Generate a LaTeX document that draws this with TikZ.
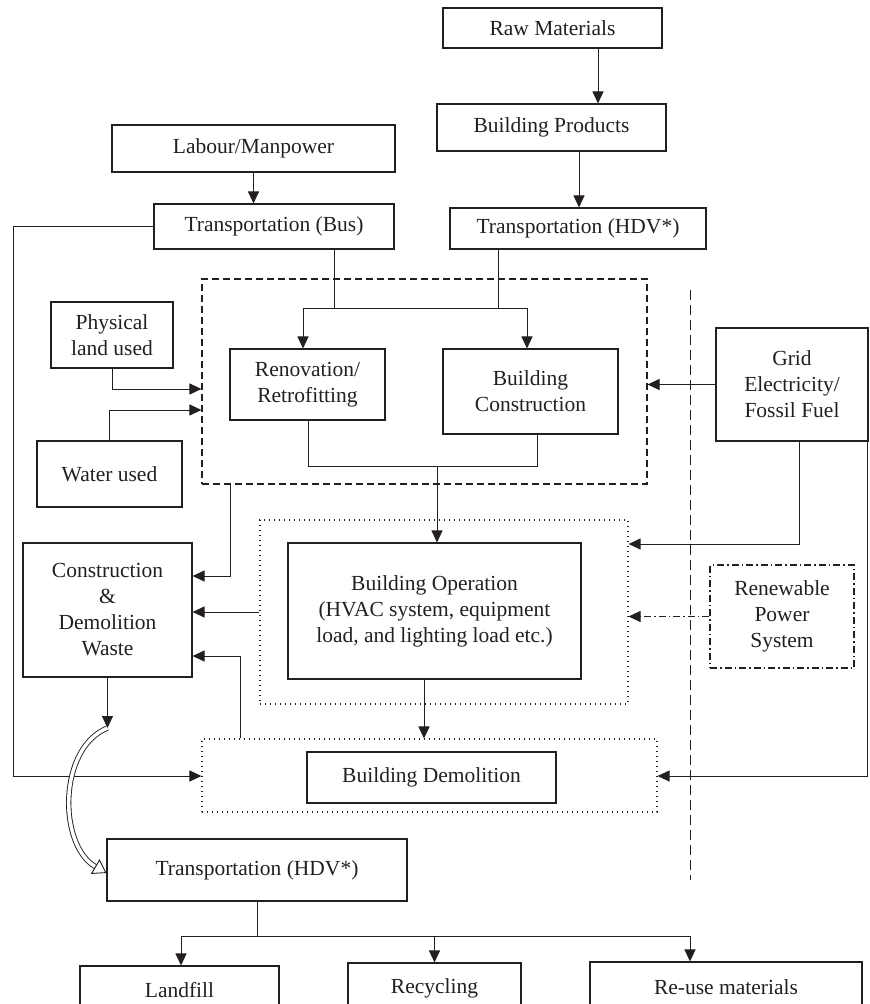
\documentclass[tikz,border=0pt]{standalone}
\usepackage{fontspec}
\setmainfont{Liberation Serif}
\usetikzlibrary{arrows.meta}
\definecolor{ink}{HTML}{231F20}
\begin{document}
\begin{tikzpicture}[x=1pt,y=-1pt,
  box/.style={draw=ink, line width=1.1pt, inner sep=0pt, align=center, text=ink,
    font=\fontsize{21.5}{26}\selectfont},
  grp/.style={draw=ink, line width=1.1pt, inner sep=0pt},
  dsh/.style={dash pattern=on 7pt off 4pt},
  dts/.style={dash pattern=on 1.2pt off 3.8pt},
  dshdot/.style={dash pattern=on 7pt off 3pt on 1.5pt off 3pt},
  conn/.style={draw=ink, line width=1pt},
  arr/.style={conn, -{Triangle[length=12pt,width=11pt]}},
]
\useasboundingbox (0,0) rectangle (870,1004);

% boxes
\node[box, minimum width=219, minimum height=40] (raw) at (552.5,28) {Raw Materials};
\node[box, minimum width=229, minimum height=47] (bp) at (551.5,127.5) {Building Products};
\node[box, minimum width=283, minimum height=47] (lab) at (253.5,148.5) {Labour/Manpower};
\node[box, minimum width=240, minimum height=45] (bus) at (274,226.5) {Transportation (Bus)};
\node[box, minimum width=256, minimum height=41] (hdv) at (578,228.5) {Transportation (HDV*)};
\node[box, minimum width=122, minimum height=66] (land) at (112,335) {Physical\\land used};
\node[box, minimum width=145, minimum height=66] (water) at (109.5,474) {Water used};
\node[box, minimum width=155, minimum height=71] (ren) at (307.5,384.5) {Renovation/\\Retrofitting};
\node[box, minimum width=175, minimum height=85] (con) at (530.5,391.5) {Building\\Construction};
\node[box, minimum width=152, minimum height=113] (grid) at (792,384.5) {Grid\\Electricity/\\Fossil Fuel};
\node[box, minimum width=293, minimum height=136] (op) at (434.5,611) {Building Operation\\(HVAC system, equipment\\load, and lighting load etc.)};
\node[box, dshdot, minimum width=144, minimum height=103] (rps) at (782,616.5) {Renewable\\Power\\System};
\node[box, minimum width=169, minimum height=134] (cdw) at (107.5,610) {Construction\\\&\\Demolition\\Waste};
\node[box, minimum width=249, minimum height=51] (demo) at (431.5,777.5) {Building Demolition};
\node[box, minimum width=300, minimum height=62] (hdvb) at (257,870) {Transportation (HDV*)};
\node[box, minimum width=199, minimum height=48] (lf) at (179.5,990) {Landfill};
\node[box, minimum width=173, minimum height=50] (rec) at (434.5,988) {Recycling};
\node[box, minimum width=272, minimum height=50] (reuse) at (726,987) {Re-use materials};

% groups
\node[grp, dsh, minimum width=445, minimum height=205] (g1) at (424.5,381.5) {};
\node[grp, dts, minimum width=368, minimum height=184] (g2) at (444,612) {};
\node[grp, dts, minimum width=455, minimum height=73] (g3) at (429.5,775.5) {};
\coordinate (dvt) at (690,290);
\coordinate (dvb) at (690,880);
\draw[conn, dash pattern=on 10pt off 5pt] (dvt) -- (dvb);

% top connectors
\draw[arr] ([xshift=45.5pt]raw.south) -- ([xshift=45.5pt]raw.south |- bp.north);
\draw[arr] ([xshift=27.5pt]bp.south) -- ([xshift=27.5pt]bp.south |- hdv.north);
\draw[arr] (lab.south) -- (lab.south |- bus.north);

\coordinate (jb) at (334,308);
\coordinate (jh) at (498,308);
\coordinate (jl) at (303,308);
\coordinate (jr) at (527,308);
\draw[conn] (bus.south -| jb) -- (jb);
\draw[conn] (hdv.south -| jh) -- (jh);
\draw[conn] (jl) -- (jr);
\draw[arr] (jl) -- (jl |- ren.north);
\draw[arr] (jr) -- (jr |- con.north);

\coordinate (ml) at (308,466);
\coordinate (mr) at (537,466);
\coordinate (mc) at (437,466);
\draw[conn] (ren.south -| ml) -- (ml) -- (mr) -- (con.south -| mr);
\draw[arr] (mc) -- (mc |- op.north);

\coordinate (lk) at (112,389);
\draw[arr] (land.south) -- (lk) -- (lk -| g1.west);
\coordinate (wk) at (109.5,410);
\draw[arr] (water.north) -- (wk) -- (wk -| g1.west);

% grid electricity
\draw[arr] (grid.west) -- (grid.west -| g1.east);
\coordinate (gk) at (799,544);
\draw[arr] (grid.south -| gk) -- (gk) -- (gk -| g2.east);
\coordinate (gr) at (867,776);
\draw[arr] (grid.south -| gr) -- (gr) -- (gr -| g3.east);
\draw[arr, dshdot] (rps.west) -- (rps.west -| g2.east);

% bus to demolition
\coordinate (bl) at (13,226.5);
\coordinate (bb) at (13,776);
\draw[arr] (bus.west) -- (bl) -- (bb) -- (bb -| g3.west);

% waste inputs
\coordinate (c1) at (230,576);
\draw[arr] (g1.south -| c1) -- (c1) -- (c1 -| cdw.east);
\draw[arr] (g2.west) -- (g2.west -| cdw.east);
\coordinate (c3) at (240,656);
\draw[arr] (g3.north -| c3) -- (c3) -- (c3 -| cdw.east);
\draw[arr] ([xshift=-10.5pt]op.south) -- ([xshift=-10.5pt]op.south |- g3.north);

% waste to transport
\coordinate (cw) at (107.5,728);
\draw[arr] (cdw.south) -- (cw);
\coordinate (ce) at ([yshift=-3pt]hdvb.west);
\draw[draw=ink, line width=0.9pt, double=white, double distance=3.5pt,
  -{Triangle[open, length=13pt, width=17pt]}]
  (cw) .. controls (58,748) and (58,845) .. (ce);

% bottom
\coordinate (tl) at (181,936);
\coordinate (tr) at (690,936);
\draw[conn] (hdvb.south) -- (hdvb.south |- tl);
\draw[conn] (tl) -- (tr);
\draw[arr] (tl) -- (tl |- lf.north);
\draw[arr] (rec.north |- tl) -- (rec.north);
\draw[arr] (tr) -- (tr |- reuse.north);
\end{tikzpicture}
\end{document}
